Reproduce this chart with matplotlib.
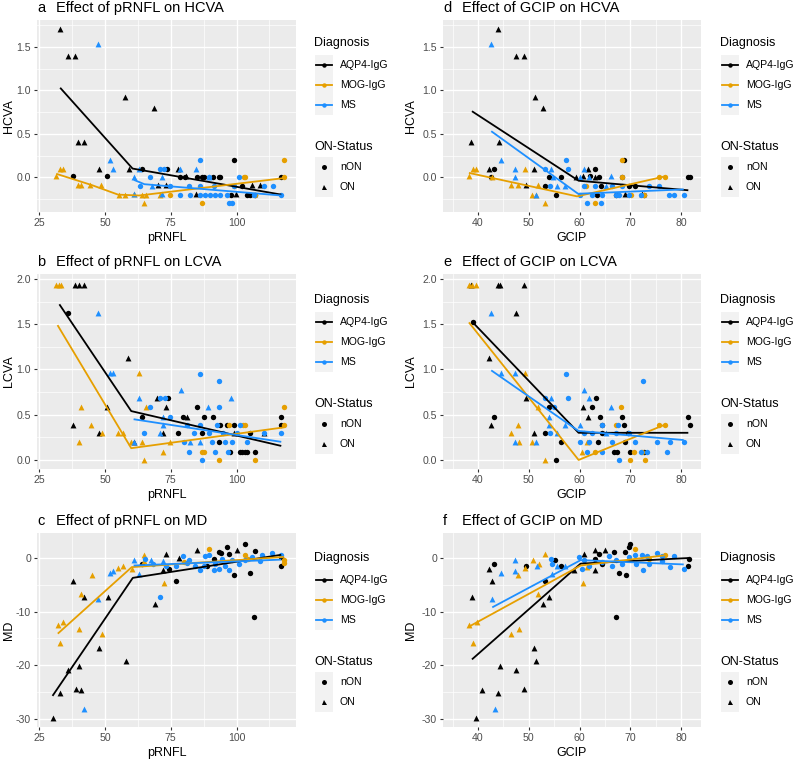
import matplotlib
matplotlib.use("Agg")
import matplotlib.pyplot as plt
from matplotlib.lines import Line2D
from matplotlib.patches import Rectangle

plt.rcParams['font.family'] = ['Liberation Sans', 'DejaVu Sans']

# ---------------- data ----------------
GROUPS = ["AQP4-IgG", "MOG-IgG", "MS"]
STATUS = ["nON", "ON"]

# Panel a: pRNFL vs HCVA
a_aqp4_on_x = [33, 35.8, 38.8, 39.7, 41.9, 47.8, 57.8, 68.7, 59, 70, 73.1, 77.7, 80.9, 84.7, 99.9, 105.8, 109]
a_aqp4_on_y = [1.71, 1.40, 1.40, 0.40, 0.40, 0.10, 0.92, 0.80, 0.10, -0.09, -0.09, 0.10, 0.01, -0.19, -0.19, -0.09, -0.09]
a_aqp4_non_x = [37.8, 50.7, 64, 73.5, 78.6, 80.5, 85, 86.8, 87.7, 91, 93.2, 93.8, 99.2, 102, 104, 105.3, 107, 117, 98]
a_aqp4_non_y = [0.01, 0.01, 0.10, 0.10, 0, 0, 0, 0, 0, 0, 0, 0, 0.20, -0.1, -0.2, -0.2, -0.2, 0, -0.2]
a_mog_on_x = [31.5, 33, 34.2, 39.6, 40.8, 44.4, 48.6, 55.2, 57.8, 60.9, 64, 64.9, 65.8, 71]
a_mog_on_y = [0.01, 0.1, 0.1, -0.09, -0.09, -0.09, -0.09, -0.2, -0.2, -0.19, -0.2, -0.3, -0.2, -0.2]
a_mog_non_x = [74.8, 86.8, 102.7, 103.3, 107, 117.9, 117.9, 98.9]
a_mog_non_y = [-0.2, -0.3, 0, 0, -0.2, 0.2, 0, -0.1]
a_ms_on_x = [47.2, 52, 53, 60.9, 62.8, 67.8, 71.6, 71.6, 78.6, 84.5, 89.4, 60.9]
a_ms_on_y = [1.53, 0.2, 0.1, 0, 0.1, -0.1, 0, -0.19, 0.1, 0.1, 0, -0.19]
a_ms_non_x = [67.2, 71, 72.5, 63.4, 81.8, 86, 78.6, 82.4, 86.2, 88.1, 90, 91.9, 93.8, 96.3, 97.3, 98.2, 101, 106.5,
              110.3, 114, 117, 74.8, 86.2, 91.3, 98.9, 89.4]
a_ms_non_y = [0, 0.09, 0.09, -0.1, -0.1, 0.2, -0.2, -0.2, -0.2, -0.2, -0.2, -0.2, -0.2, -0.2, -0.3, -0.3, 0, -0.2,
              -0.1, -0.1, -0.2, -0.1, -0.1, -0.1, -0.1, 0]
a_fit_aqp4_x = [33, 60.5, 117]
a_fit_aqp4_y = [1.03, 0.10, -0.20]
a_fit_mog_x = [31.5, 45, 55, 63, 118]
a_fit_mog_y = [0.04, -0.09, -0.20, -0.21, -0.01]
a_fit_ms_x = [61, 65, 117]
a_fit_ms_y = [-0.03, -0.08, -0.21]

# Panel b: pRNFL vs LCVA
b_aqp4_on_x = [38.7, 40, 41.9, 37.8, 47.7, 50.7, 58.7, 60.9, 69.7, 73.1, 71.9, 81.1, 110.6, 98.9]
b_aqp4_on_y = [1.93, 1.93, 1.93, 0.39, 0.30, 0.58, 1.13, 0.2, 0.68, 0.58, 0.30, 0.48, 0.30, 0.3]
b_aqp4_non_x = [35.9, 64, 73.9, 77.9, 79.6, 84.9, 87.7, 91, 93.2, 93.8, 96.3, 98.9, 97.6, 101.2, 102.2, 103.1, 104,
                107, 105.2, 117, 117, 86.8]
b_aqp4_non_y = [1.62, 0.48, 0.69, 0.30, 0.48, 0.58, 0.48, 0.48, 0.2, 0.39, 0.39, 0.39, 0.09, 0.09, 0.09, 0.09, 0.09,
                0.09, 0.30, 0.48, 0.39, 0.3]
b_mog_on_x = [31.5, 32.5, 33.5, 40.8, 40, 44.6, 49, 54.8, 56.8, 60, 62.9, 64, 64.9, 65.8, 71.9, 74.8]
b_mog_on_y = [1.93, 1.93, 1.93, 0.58, 0.20, 0.39, 0.30, 0.30, 0.30, 0.2, 0.96, 0.2, 0, 0.58, 0.09, 0.2]
b_mog_non_x = [86.8, 87.7, 93.2, 97, 102.4, 103.3, 107, 117.9, 117.9]
b_mog_non_y = [0.09, 0.09, 0, 0.39, 0.39, 0.39, 0, 0.58, 0.39]
b_ms_on_x = [47.2, 52, 53.2, 62.9, 60.9, 71.9, 71.9, 79, 89.1, 98, 71, 86.2, 82.4]
b_ms_on_y = [1.62, 0.96, 0.96, 0.68, 0.2, 0.48, 0.39, 0.77, 0.58, 0.68, 0.30, 0.2, 0.2]
b_ms_non_x = [64.7, 67.2, 71, 73, 86, 93.2, 93.2, 82.1, 80.1, 83.7, 86, 86.8, 89.4, 90.6, 91.9, 92.5, 95, 95.6, 96.9,
              98.2, 100.1, 101.4, 103.9, 110.3, 117, 81.1, 74.8]
b_ms_non_y = [0.30, 0.58, 0.68, 0.68, 0.95, 0.87, 0.58, 0.09, 0.2, 0.30, 0.39, 0, 0.3, 0.2, 0.09, 0.39, 0.3, 0.2, 0.09,
              0.2, 0.3, 0.39, 0.2, 0.3, 0.3, 0.39, 0.48]
b_fit_aqp4_x = [32.7, 60, 117]
b_fit_aqp4_y = [1.72, 0.54, 0.155]
b_fit_mog_x = [32, 60, 118]
b_fit_mog_y = [1.49, 0.13, 0.36]
b_fit_ms_x = [60.9, 117]
b_fit_ms_y = [0.45, 0.2]

# Panel c: pRNFL vs MD
c_aqp4_on_x = [30.1, 33, 36.1, 38, 39.1, 40, 41, 42.2, 47.9, 51, 58.1, 69, 73.1, 78, 84.9, 100.1, 72]
c_aqp4_on_y = [-29.8, -25.1, -20.8, -4.3, -24.5, -20.1, -24.6, -7.3, -16.7, -7.3, -19.2, -8.5, 0.8, 0.05, 1.4, 1.4, -2.3]
c_aqp4_non_x = [64, 74.2, 77.1, 91.3, 93.2, 94.2, 96.3, 97.1, 99, 103.3, 105.2, 106.5, 107.1, 117, 117, 88.7]
c_aqp4_non_y = [-1.05, -2, -4.3, -0.1, 1.1, 0.9, 2.0, 0.8, -3.2, 2.7, -2.8, -11, 1.3, -1.5, 0.2, -1.4]
c_mog_on_x = [32, 33, 34.2, 40.2, 41, 45, 48.9, 54.9, 57, 65, 72.3, 64.7, 60.2]
c_mog_on_y = [-12.5, -15.8, -12, -13.3, -6.8, -3.1, -14.1, -1.8, -1.5, 0.6, -4.6, -0.6, -2]
c_mog_non_x = [89.4, 103.3, 117.9, 117.9, 104.2, 79.9]
c_mog_non_y = [1.7, 0.6, -0.4, -1, -0.1, -0.7]
c_ms_on_x = [47.2, 52, 53.2, 60.9, 62.9, 67.6, 71.9, 42.2]
c_ms_on_y = [-7.7, -2.8, -2.5, -0.3, -2.9, -0.4, -0.6, -28.2]
c_ms_non_x = [71, 65.3, 68.4, 73.2, 77, 79.6, 81.9, 84.4, 86.3, 88.2, 89.5, 91.4, 92, 93.3, 94.5, 95.8, 97.1, 98.3,
              100.8, 103.3, 105.8, 109.5, 113.3, 117, 109, 81, 87.6]
c_ms_non_y = [-7.3, -0.1, -1.05, -1.4, -1.4, 0.3, -0.4, -1.4, -2.3, 0.3, 0.5, -2.3, -1.05, -2, -0.1, -1.4, -2.3, -0.4,
              -1.05, -0.4, 0.2, 0.5, 0.9, 0.5, -0.6, -1, -1.4]
c_fit_aqp4_x = [30.1, 60.6, 117]
c_fit_aqp4_y = [-25.7, -3.7, 0.6]
c_fit_mog_x = [32.1, 60.2, 118]
c_fit_mog_y = [-14.1, -1.7, 0.2]
c_fit_ms_x = [60.9, 117]
c_fit_ms_y = [-1.4, -0.3]

# Panel d: GCIP vs HCVA
d_aqp4_on_x = [38.7, 43.9, 44.2, 42.2, 47.4, 49, 51.3, 52.8, 51, 49.5, 59.2, 60.6, 61.6, 63.1, 69, 72.2]
d_aqp4_on_y = [0.40, 1.71, 0.40, 0.1, 1.40, 1.40, 0.92, 0.80, 0.1, -0.09, 0, 0.01, 0.1, 0, -0.19, -0.19]
d_aqp4_non_x = [42.6, 43.2, 53.1, 53.9, 55.4, 56.3, 62.1, 63.1, 63.9, 64.3, 63.4, 68.4, 68.7, 69.7, 71, 72.6, 81.4,
                81.7, 67.1]
d_aqp4_non_y = [0, 0.1, -0.1, 0, -0.2, 0, 0.01, 0.1, 0, -0.1, -0.2, 0, 0.2, -0.1, -0.1, -0.2, 0, 0, -0.2]
d_mog_on_x = [38.2, 39, 39.5, 42.8, 46.4, 47.9, 49.2, 50.6, 51.8, 53.1, 51.4]
d_mog_on_y = [0.01, 0.1, 0.1, 0, -0.09, -0.09, 0.1, -0.2, -0.09, -0.3, -0.2]
d_mog_non_x = [61.3, 63, 68.4, 68.4, 70.1, 72.6, 75.7, 76.8]
d_mog_non_y = [-0.1, -0.3, 0.2, 0, -0.2, -0.2, 0, 0]
d_ms_on_x = [42.6, 44.5, 47.2, 47.2, 51.4, 54.4, 54.7, 55.6, 57.2, 60, 60.8, 61.8, 66.1, 65.1]
d_ms_on_y = [1.53, 0.2, 0.1, 0, -0.2, 0.1, 0, -0.1, -0.1, 0, 0.1, 0, 0.01, -0.1]
d_ms_non_x = [53.1, 54.2, 57.3, 57.7, 60, 60.8, 61.5, 62.5, 64.3, 64.4, 66.4, 67.1, 68.4, 67.7, 69.7, 72, 73.6, 75.6,
              77.6, 78.5, 80.5, 63.1]
d_ms_non_y = [0.09, -0.1, 0.2, 0.09, -0.2, -0.1, -0.3, -0.2, -0.3, -0.2, -0.1, -0.2, -0.1, -0.2, -0.2, -0.2, -0.1,
              -0.1, -0.2, -0.2, -0.2, -0.1]
d_fit_aqp4_x = [38.8, 59.8, 81.4]
d_fit_aqp4_y = [0.76, -0.04, -0.15]
d_fit_mog_x = [38.2, 59.5, 76.8]
d_fit_mog_y = [0.05, -0.22, 0.01]
d_fit_ms_x = [42.6, 59.7, 80.5]
d_fit_ms_y = [0.53, -0.19, -0.14]

# Panel e: GCIP vs LCVA
e_aqp4_on_x = [38.7, 43.9, 44.4, 49, 47.5, 42.1, 42.6, 49.5, 51, 60.7, 61.7]
e_aqp4_on_y = [1.93, 1.93, 1.93, 1.93, 1.62, 1.13, 0.39, 0.68, 0.30, 0.58, 0.48]
e_aqp4_non_x = [39, 43.2, 53.1, 53.9, 55.4, 56.3, 62.5, 63.2, 63.7, 64, 64.4, 66.7, 67.4, 68.4, 68.7, 69, 70, 72.6,
                81.4, 81.7, 64.4, 69.5]
e_aqp4_non_y = [1.52, 0.48, 0.30, 0.58, 0, 0.2, 0.58, 0.69, 0.2, 0.48, 0.39, 0.09, 0.09, 0.48, 0.39, 0.2, 0.09, 0.09,
                0.48, 0.39, 0.3, 0.3]
e_mog_on_x = [38.2, 38.8, 39.5, 46.4, 47.9, 48, 49.2, 50.6, 53.1, 51.8, 60.5, 61.5]
e_mog_on_y = [1.93, 1.93, 1.93, 0.30, 0.39, 0.2, 0.96, 0.2, 0, 0.58, 0.09, 0.2]
e_mog_non_x = [63.1, 67.1, 68.2, 70, 70.7, 72.8, 72.3, 75.6, 76.8]
e_mog_non_y = [0.09, 0.39, 0.58, 0, 0.09, 0, 0.09, 0.39, 0.39]
e_ms_on_x = [42.6, 44.5, 47.2, 47.2, 51.4, 53.9, 54.4, 54, 55.6, 57.2, 60, 60.8, 61.9, 66.1, 65.1]
e_ms_on_y = [1.62, 0.96, 0.96, 0.2, 0.2, 0.48, 0.68, 0.39, 0.3, 0.39, 0.39, 0.77, 0.68, 0.58, 0.3]
e_ms_non_x = [53.1, 54.2, 57.3, 57.7, 54.9, 60, 60.8, 61.5, 61.8, 62.5, 64.4, 66.4, 67.1, 67.7, 67.6, 69.7, 71, 72.4,
              72, 73.3, 75.3, 77.2, 77.7, 80.5, 64.4]
e_ms_non_y = [0.68, 0.3, 0.95, 0.68, 0.58, 0.2, 0.3, 0.09, 0.2, 0.3, 0.09, 0.2, 0.3, 0, 0.39, 0.3, 0.2, 0.87, 0.09,
              0.09, 0.2, 0.09, 0.2, 0.2, 0.39]
e_fit_aqp4_x = [38.8, 59.8, 81.4]
e_fit_aqp4_y = [1.53, 0.30, 0.30]
e_fit_mog_x = [38.2, 59.8, 76.8]
e_fit_mog_y = [1.52, 0.0, 0.39]
e_fit_ms_x = [42.6, 59.8, 80.5]
e_fit_ms_y = [0.99, 0.32, 0.22]

# Panel f: GCIP vs MD
f_aqp4_on_x = [38.8, 39.5, 40.8, 42.2, 42.8, 43.9, 44.4, 47.5, 49, 51, 51.4, 52.8, 53.9, 60.9, 63.1, 64.9, 63.1, 58.8]
f_aqp4_on_y = [-7.3, -29.8, -24.6, -2, -4.3, -25.1, -20.1, -20.8, -24.5, -16.7, -19.2, -8.5, -7.3, 0.8, 1.4, 1.4,
               -2.3, -2.2]
f_aqp4_non_x = [43.2, 49.5, 53.1, 55.2, 56.3, 63.8, 66.7, 67.7, 67.2, 69, 69.1, 69.7, 70, 64.4, 81.5, 81.4, 63.1]
f_aqp4_non_y = [-1.2, -1.4, -4.3, -0.4, -1.4, 0.8, 1.1, -2.8, -11, 1.1, -3.2, 2, 2.7, -1.05, -0.1, -1.5, -0.1]
f_mog_on_x = [38.2, 39.1, 39.7, 46.4, 48.1, 47.9, 49.2, 50.8, 51.8, 52.1, 53.1, 60.6, 61.5]
f_mog_on_y = [-12.5, -15.8, -12, -14.1, -13.3, -3.1, -1.8, -0.3, -6.8, -1.2, 0.7, -4.6, -1.7]
f_mog_non_x = [70.9, 76.8, 73.6]
f_mog_non_y = [1.7, 0.6, -0.1]
f_ms_on_x = [42.8, 44.6, 47.2, 47.3, 51.6, 54.6, 55.6, 43.4, 57.2]
f_ms_on_y = [-7.7, -2.8, -0.3, -2.5, -1.4, -2.9, -1.4, -28.2, -1.4]
f_ms_non_x = [54.4, 54.6, 59.8, 60.8, 61.8, 65.7, 66.4, 67.1, 68.4, 71, 71.1, 72.3, 72.4, 73.3, 75.3, 76.2, 77.7, 78.5,
              80.5, 76.2, 69.7, 73.6, 60.5, 64.4]
f_ms_non_y = [-0.1, -1.05, 0.2, -0.4, -1.4, 0.3, -1.4, -0.4, -1.05, 0.5, -1.05, 0.5, -2.3, 0.3, 1, 0.3, -1.7, 0.3,
              -2.1, -0.6, 0.2, -1.05, -2, -0.7]
f_fit_aqp4_x = [38.8, 60.2, 81.5]
f_fit_aqp4_y = [-18.9, -1.05, 0.0]
f_fit_mog_x = [38.2, 60.2, 76.8]
f_fit_mog_y = [-12.8, -1.4, 0.5]
f_fit_ms_x = [42.8, 60.2, 80.5]
f_fit_ms_y = [-9.2, -0.4, -1.2]

# ---------------- styling / layout ----------------
COLORS = {"AQP4-IgG": "#000000", "MOG-IgG": "#E69F00", "MS": "#1E8FFF"}
W, H = 793, 762
fig = plt.figure(figsize=(W / 100, H / 100), dpi=100)
fig.patch.set_facecolor("white")


def fx(x):
    return x / W


def fy(y):
    return 1 - y / H


def g(name):
    return globals()[name]


panels = [
    ("a", "Effect of pRNFL on HCVA", "pRNFL", "HCVA", (37, 20, 296, 212), (24.2, 122.6), (-0.40, 1.81),
     [25, 50, 75, 100], [0, 0.5, 1.0, 1.5], ["0.0", "0.5", "1.0", "1.5"], 0),
    ("b", "Effect of pRNFL on LCVA", "pRNFL", "LCVA", (37, 274, 296, 469), (24.2, 122.6), (-0.10, 2.055),
     [25, 50, 75, 100], [0, 0.5, 1.0, 1.5, 2.0], ["0.0", "0.5", "1.0", "1.5", "2.0"], 257),
    ("c", "Effect of pRNFL on MD", "pRNFL", "MD", (37, 533, 296, 727), (24.2, 122.6), (-31.5, 4.66),
     [25, 50, 75, 100], [-30, -20, -10, 0], ["-30", "-20", "-10", "0"], 515),
    ("d", "Effect of GCIP on HCVA", "GCIP", "HCVA", (443, 20, 701, 212), (33.1, 83.9), (-0.40, 1.81),
     [40, 50, 60, 70, 80], [0, 0.5, 1.0, 1.5], ["0.0", "0.5", "1.0", "1.5"], 0),
    ("e", "Effect of GCIP on LCVA", "GCIP", "LCVA", (443, 274, 701, 469), (33.1, 83.9), (-0.10, 2.055),
     [40, 50, 60, 70, 80], [0, 0.5, 1.0, 1.5, 2.0], ["0.0", "0.5", "1.0", "1.5", "2.0"], 257),
    ("f", "Effect of GCIP on MD", "GCIP", "MD", (443, 533, 701, 727), (33.1, 83.9), (-31.5, 4.66),
     [40, 50, 60, 70, 80], [-30, -20, -10, 0], ["-30", "-20", "-10", "0"], 515),
]

keys = {"AQP4-IgG": "aqp4", "MOG-IgG": "mog", "MS": "ms"}

for tag, title, xl, yl, box, xlim, ylim, xt, yt, ytl, loff in panels:
    x0, y0, x1, y1 = box
    ax = fig.add_axes([fx(x0), fy(y1), (x1 - x0) / W, (y1 - y0) / H])
    ax.set_facecolor("#EBEBEB")
    for s in ax.spines.values():
        s.set_visible(False)
    ax.set_xlim(*xlim)
    ax.set_ylim(*ylim)
    ax.set_xticks(xt)
    ax.set_yticks(yt)
    ax.set_yticklabels(ytl)
    xminor = []
    step = xt[1] - xt[0]
    v = xt[0] - step / 2
    while v < xlim[1]:
        if v > xlim[0]:
            xminor.append(v)
        v += step
    yminor = []
    ystep = yt[1] - yt[0]
    v = yt[0] - ystep / 2
    while v < ylim[1]:
        if v > ylim[0]:
            yminor.append(v)
        v += ystep
    ax.set_xticks(xminor, minor=True)
    ax.set_yticks(yminor, minor=True)
    ax.grid(which="major", color="white", lw=1.0)
    ax.grid(which="minor", color="white", lw=0.5)
    ax.tick_params(which="minor", length=0)
    ax.tick_params(which="major", length=2.2, width=0.8, color="#333333", labelcolor="#4D4D4D",
                   labelsize=7.6, pad=2.2)
    ax.set_axisbelow(True)

    for grp in GROUPS:
        k = keys[grp]
        c = COLORS[grp]
        ax.scatter(g(f"{tag}_{k}_non_x"), g(f"{tag}_{k}_non_y"), s=15, marker="o", color=c, lw=0, zorder=3)
        ax.scatter(g(f"{tag}_{k}_on_x"), g(f"{tag}_{k}_on_y"), s=18, marker="^", color=c, lw=0, zorder=3)
    for grp in GROUPS:
        k = keys[grp]
        ax.plot(g(f"{tag}_fit_{k}_x"), g(f"{tag}_fit_{k}_y"), color=COLORS[grp], lw=1.3, zorder=4,
                solid_capstyle="butt")

    ax.set_xlabel(xl, fontsize=9, color="black")
    ax.set_ylabel(yl, fontsize=9, color="black")
    ph = y1 - y0
    pw = x1 - x0
    ax.xaxis.set_label_coords(0.5, -(20 / ph))
    ypad = 22 if x0 < 400 else 26
    ax.yaxis.set_label_coords(-(ypad / pw), 0.5)

    ty = y0 - 12
    fig.text(fx(x0), fy(ty), tag, fontsize=10.5, va="center", ha="left")
    fig.text(fx(x0 + 19), fy(ty), title, fontsize=10.5, va="center", ha="left")

    lx = 314 if x0 < 400 else 720
    fig.text(fx(lx), fy(loff + 43), "Diagnosis", fontsize=9, va="center", ha="left")
    for i, grp in enumerate(GROUPS):
        cy = loff + 65 + 20 * i
        fig.add_artist(Rectangle((fx(lx + 1), fy(cy + 10)), 18 / W, 20 / H, transform=fig.transFigure,
                                 facecolor="#F2F2F2", edgecolor="none"))
        fig.add_artist(Line2D([fx(lx + 2), fx(lx + 18)], [fy(cy), fy(cy)], transform=fig.transFigure,
                              color=COLORS[grp], lw=1.3))
        fig.add_artist(Line2D([fx(lx + 10)], [fy(cy)], transform=fig.transFigure, marker="o", ms=3.2,
                              color=COLORS[grp], lw=0, mew=0))
        fig.text(fx(lx + 26), fy(cy), grp, fontsize=7.6, va="center", ha="left")
    fig.text(fx(lx), fy(loff + 147), "ON-Status", fontsize=9, va="center", ha="left")
    for i, st in enumerate(STATUS):
        cy = loff + 167 + 20 * i
        fig.add_artist(Rectangle((fx(lx + 1), fy(cy + 10)), 18 / W, 20 / H, transform=fig.transFigure,
                                 facecolor="#F2F2F2", edgecolor="none"))
        fig.add_artist(Line2D([fx(lx + 10)], [fy(cy)], transform=fig.transFigure,
                              marker="o" if st == "nON" else "^", ms=3.6, color="black", lw=0, mew=0))
        fig.text(fx(lx + 26), fy(cy), st, fontsize=7.6, va="center", ha="left")

fig.savefig("out.png", dpi=100)
